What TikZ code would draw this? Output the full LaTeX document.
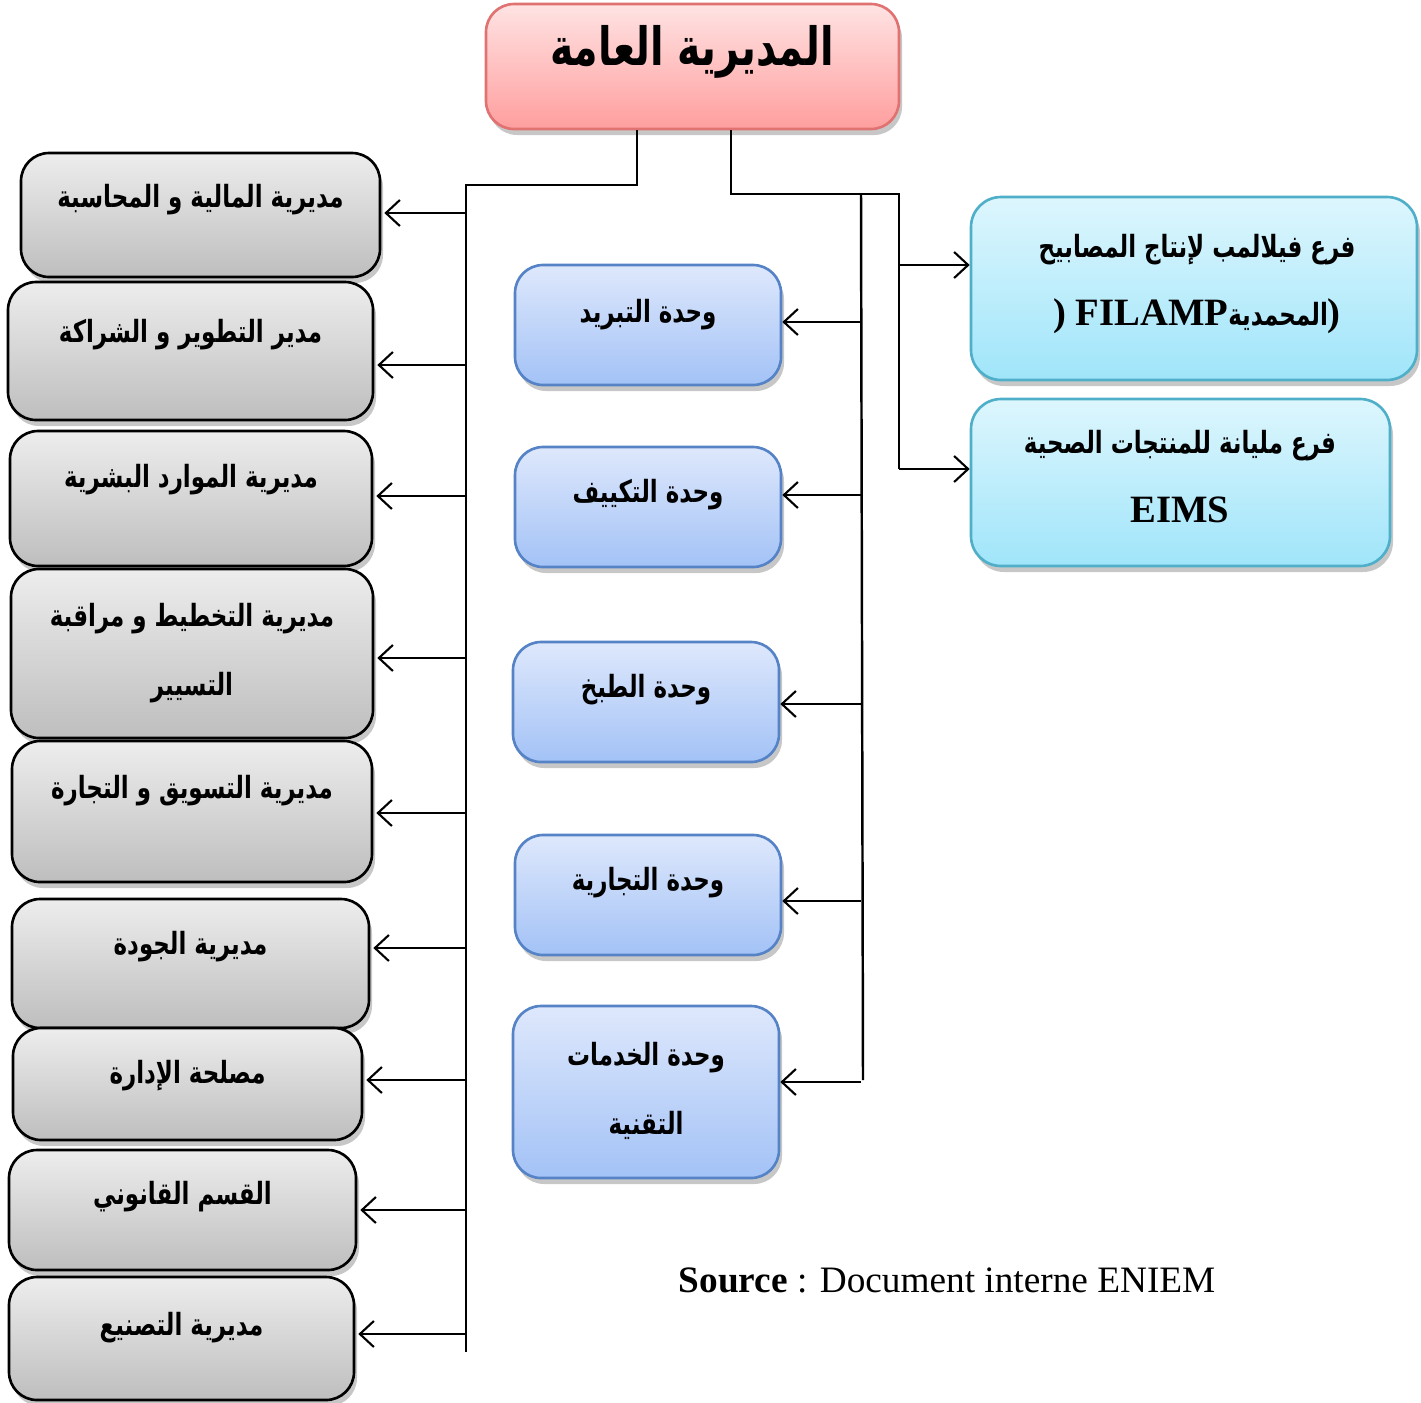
\documentclass[tikz,border=0pt]{standalone}
\usepackage{fontspec}
\setmainfont{Liberation Serif}
\newfontfamily\arabicfont[Script=Arabic,FakeStretch=0.75]{DejaVu Sans}
\TeXXeTstate=1
\usetikzlibrary{arrows.meta,fit,shadows}
\definecolor{greytop}{HTML}{EDEDED}
\definecolor{greybot}{HTML}{BEBEBE}
\definecolor{bluetop}{HTML}{DEE8FC}
\definecolor{bluebot}{HTML}{A3C2F6}
\definecolor{blueline}{HTML}{5583C6}
\definecolor{cyantop}{HTML}{DDF6FD}
\definecolor{cyanbot}{HTML}{A0E5FA}
\definecolor{cyanline}{HTML}{4FAFC8}
\definecolor{pinktop}{HTML}{FFE3E3}
\definecolor{pinkbot}{HTML}{FF9E9E}
\definecolor{pinkline}{HTML}{E07272}
\newcommand{\artxt}[1]{\beginR #1\endR}

\begin{document}
\begin{tikzpicture}[x=0.01cm,y=-0.01cm,
    boxshadow/.style={drop shadow={shadow xshift=0.3mm,shadow yshift=-0.6mm,opacity=0.22,fill=black}},
    leftbox/.style={draw=black,line width=0.75pt,rounded corners=0.28cm,inner sep=0pt,top color=greytop,bottom color=greybot,boxshadow},
    unitbox/.style={draw=blueline,line width=0.75pt,rounded corners=0.28cm,inner sep=0pt,top color=bluetop,bottom color=bluebot,boxshadow},
    branchbox/.style={draw=cyanline,line width=0.75pt,rounded corners=0.3cm,inner sep=0pt,top color=cyantop,bottom color=cyanbot,boxshadow},
    headbox/.style={draw=pinkline,line width=0.75pt,rounded corners=0.28cm,inner sep=0pt,top color=pinktop,bottom color=pinkbot,boxshadow},
    artext/.style={font=\arabicfont\bfseries\fontsize{8.7}{19.6}\selectfont,align=center,inner sep=0pt},
    bus/.style={draw,line width=0.7pt},
    arc/.style={draw,line width=0.6pt,-{Straight Barb[length=1.4mm,width=2.6mm]}}]
    \useasboundingbox (0,0) rectangle (1421,1402);

    % general management
    \node[headbox,fit={(486,4) (899,129)}] (dg) {};
    \node[artext,font=\arabicfont\bfseries\fontsize{15}{20}\selectfont] (dg-t) at (692,52) {\artxt{المديرية العامة}};

    \coordinate (lbus) at (466,185);
    \coordinate (lbusend) at (466,1352);
    \coordinate (rbus) at (899,194);
    \coordinate (rbusend) at (899,469);
    \coordinate (mbus) at (861,194);
    \coordinate (mbusend) at (863,1080);
    \draw[bus] (dg.south -| 637,0) |- (lbus) -- (lbusend);
    \draw[bus] (dg.south -| 731,0) |- (rbus) -- (rbusend);
    \draw[bus] (mbus) -- (mbusend);

    % directions
    \foreach \l/\r/\t/\b/\ty/\ay/\txt [count=\i] in {
        21/380/153/277/200/213/{\artxt{مديرية المالية و المحاسبة}},
        8/373/282/420/335/365/{\artxt{مدير التطوير و الشراكة}},
        10/372/431/566/480/496/{\artxt{مديرية الموارد البشرية}},
        11/373/569/738/653/658/{\artxt{مديرية التخطيط و مراقبة}\\\artxt{التسيير}},
        12/372/741/882/791/813/{\artxt{مديرية التسويق و التجارة}},
        12/369/899/1028/947/948/{\artxt{مديرية الجودة}},
        13/362/1028/1140/1076/1080/{\artxt{مصلحة الإدارة}},
        9/356/1150/1270/1197/1210/{\artxt{القسم القانوني}},
        9/354/1277/1400/1328/1334/{\artxt{مديرية التصنيع}}}{
        \node[leftbox,fit={(\l,\t) (\r,\b)}] (dir\i) {};
        \node[artext] (dir\i-t) at ({(\l+\r)/2},\ty) {\txt};
        \draw[arc,shorten >=0.03cm] (lbus |- 0,\ay) -- (dir\i.east |- 0,\ay);
    }

    % units
    \foreach \l/\r/\t/\b/\ty/\ay/\txt [count=\i] in {
        515/781/265/385/315/322/{\artxt{وحدة التبريد}},
        515/781/447/567/495/495/{\artxt{وحدة التكييف}},
        513/779/642/762/690/704/{\artxt{وحدة الطبخ}},
        515/781/835/955/883/901/{\artxt{وحدة التجارية}},
        513/779/1006/1178/1091/1082/{\artxt{وحدة الخدمات}\\\artxt{التقنية}}}{
        \node[unitbox,fit={(\l,\t) (\r,\b)}] (unit\i) {};
        \node[artext] (unit\i-t) at ({(\l+\r)/2},\ty) {\txt};
        \draw[arc] (mbus |- 0,\ay) -- (unit\i.east |- 0,\ay);
    }

    % branches
    \node[branchbox,fit={(971,197) (1417,380)}] (br1) {};
    \node[artext] (br1-t) at (1197,284) {\artxt{فرع فيلالمب لإنتاج المصابيح}\\{\rmfamily\fontsize{11}{13}\selectfont ) \bfseries FILAMP}\artxt{المحمدية}{\rmfamily\fontsize{11}{13}\selectfont )}};
    \node[branchbox,fit={(971,399) (1390,566)}] (br2) {};
    \node[artext] (br2-t) at (1180,477) {\artxt{فرع مليانة للمنتجات الصحية}\\{\rmfamily\bfseries\fontsize{11}{13}\selectfont EIMS}};
    \draw[arc] (rbus |- 0,265) -- (br1.west |- 0,265);
    \draw[arc] (rbus |- 0,469) -- (br2.west |- 0,469);

    \node[font=\fontsize{10.6}{13}\selectfont] (src) at (947,1280) {\textbf{Source} : Document interne ENIEM};
\end{tikzpicture}
\end{document}
